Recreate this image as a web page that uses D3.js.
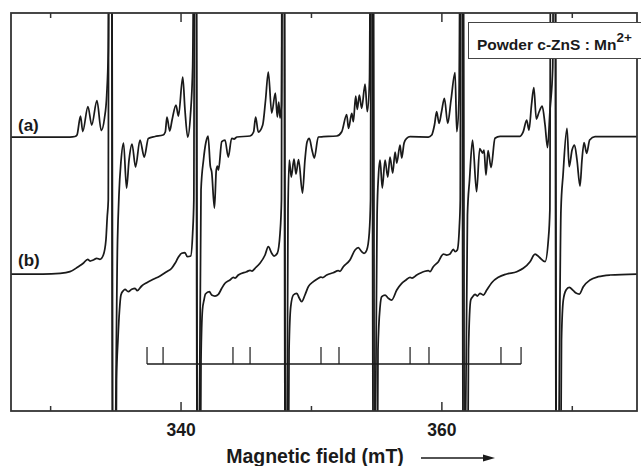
<!DOCTYPE html>
<html><head><meta charset="utf-8">
<script src="https://cdn.jsdelivr.net/npm/d3@7"></script>
<style>body{margin:0;background:#fff}svg{display:block}</style>
</head><body>
<svg id="chart" width="641" height="466"></svg>
<script>
// ---- data (field in mT, derivative signal in arbitrary units) ----
const traceA = [[327.00,0],[331.52,0],[331.91,0.5],[332.06,2],[332.33,21],[332.50,5.5],[332.90,30.5],[333.19,12],[333.59,36.5],[333.92,6.5],[334.17,19],[334.34,42],[334.46,87],[334.59,400],[334.71,400],[334.78,-400],[334.90,-400],[335.17,-103],[335.28,-58],[335.43,-25],[335.63,-6],[335.86,-51],[336.05,-23],[336.28,-7],[336.55,-30],[336.89,-3],[337.22,-20],[337.53,-1.5],[338.04,0.5],[338.66,2],[338.83,5],[338.96,20],[339.17,6],[339.35,17],[339.65,32],[339.84,21],[340.17,60],[340.34,27],[340.55,0],[340.76,22],[340.93,70],[341.11,400],[341.19,400],[341.26,-400],[341.38,-400],[341.57,-53],[341.76,-23],[341.95,-5],[342.11,1],[342.28,-29],[342.39,-35],[342.60,-71],[342.74,-33],[342.83,-29],[342.91,-33],[343.16,-4.7],[343.41,-3],[343.66,-20],[343.92,-1.3],[344.10,-2],[344.33,0],[345.33,1],[345.60,5],[345.76,20],[345.96,5],[346.30,12],[346.52,37],[346.73,65],[346.99,24],[347.27,44],[347.42,20],[347.53,35],[347.63,19],[347.74,32],[347.86,400],[347.93,400],[348.01,-400],[348.13,-400],[348.24,-73],[348.34,-23],[348.49,-40],[348.70,-22],[348.85,-37],[349.05,-22.5],[349.35,-56],[349.54,-23],[349.70,-5],[349.87,-1.3],[350.08,-13],[350.26,-21],[350.56,0],[350.95,0.3],[351.97,1],[352.36,5.3],[352.74,22.5],[352.88,8.7],[353.13,23.7],[353.25,15.3],[353.43,41],[353.55,27.7],[353.71,42],[353.89,28.7],[354.15,53],[354.32,25.3],[354.49,57],[354.61,400],[354.68,400],[354.76,-400],[354.87,-400],[355.07,-78],[355.18,-38],[355.30,-23],[355.47,-51],[355.68,-23],[355.89,-40],[356.06,-20],[356.27,-36],[356.45,-15],[356.58,-26],[356.83,-8],[356.96,-21],[357.14,-6],[357.34,-1.3],[357.60,0.3],[359.00,0],[359.26,2],[359.47,12],[359.64,25.3],[359.82,13.7],[360.01,25],[360.23,38.7],[360.49,13.7],[360.74,37],[361.05,64.3],[361.18,5.3],[361.35,37],[361.51,400],[361.58,400],[361.66,-400],[361.77,-400],[362.00,-78],[362.16,-43],[362.39,-3],[362.70,-54.7],[362.94,-11.7],[363.17,-16],[363.27,-13],[363.42,-38],[363.58,-13.5],[363.81,-30.5],[364.11,-1.3],[364.50,0.7],[366.03,0.7],[366.28,5.3],[366.54,17],[366.72,7],[366.91,32],[367.09,49.5],[367.28,18],[367.49,25],[367.73,31],[367.95,12],[368.14,-10.5],[368.33,27],[368.54,70],[368.64,400],[368.71,400],[368.79,-400],[368.91,-400],[369.17,-73],[369.33,-38],[369.63,8.7],[369.80,-29.7],[370.02,-13],[370.21,-8],[370.40,-23],[370.63,-49],[370.78,-23],[370.94,-5.5],[371.14,-16.3],[371.37,-3],[371.78,0.3],[375.00,0.3]];

const traceB = [[327.00,0],[329.45,0],[330.76,0.7],[331.52,2.3],[332.16,7.3],[332.54,10.7],[332.88,14.7],[333.06,13],[333.31,14],[333.57,15.7],[333.82,14.7],[334.08,19],[334.28,34],[334.38,57.3],[334.46,74],[334.50,400],[334.74,400],[334.82,-400],[334.97,-400],[335.09,-106],[335.20,-66],[335.32,-36],[335.43,-21],[335.61,-16.7],[335.74,-15.3],[335.99,-17.7],[336.26,-15.3],[336.51,-14.3],[336.68,-16.7],[337.02,-12],[337.41,-8.7],[337.91,-5.3],[338.43,-2],[338.94,2.3],[339.32,5.7],[339.58,10.7],[339.83,16.7],[340.09,20.7],[340.34,21.3],[340.52,17.3],[340.78,18],[340.93,40.7],[341.02,74],[341.07,400],[341.22,400],[341.30,-400],[341.45,-400],[341.57,-86],[341.68,-36],[341.80,-26],[341.91,-20],[342.21,-17.7],[342.39,-21],[342.64,-22],[342.90,-20.3],[343.16,-14.3],[343.41,-9.3],[343.79,-6],[344.05,-3.3],[344.18,-4],[344.43,-1],[345.07,2.3],[345.33,3.7],[345.48,3],[345.71,5.7],[346.09,10.7],[346.48,19],[346.73,27.3],[346.99,20.7],[347.17,18],[347.42,20.7],[347.63,40.7],[347.74,74],[347.78,400],[347.97,400],[348.05,-400],[348.20,-400],[348.32,-76],[348.45,-32.7],[348.65,-21],[348.91,-19.3],[349.11,-24.3],[349.29,-27.7],[349.54,-21],[349.80,-12.7],[350.18,-7.7],[350.54,-4.5],[350.75,-3],[350.89,-3.5],[351.21,-1],[351.71,1.3],[352.10,3.3],[352.23,2.7],[352.48,7.3],[352.99,14],[353.38,24],[353.63,26.3],[353.89,22.3],[354.07,20.7],[354.28,24],[354.47,40.7],[354.57,74],[354.61,400],[354.80,400],[354.87,-400],[355.03,-400],[355.14,-76],[355.30,-32.7],[355.43,-22.7],[355.68,-21],[355.93,-24.3],[356.19,-26],[356.58,-16],[356.96,-9.3],[357.29,-6],[357.60,-3.3],[357.75,-4],[358.11,-1],[358.36,0.7],[359.00,3.3],[359.13,2.5],[359.38,7.3],[359.77,12.3],[360.15,20],[360.41,19],[360.66,20],[360.92,24.7],[361.05,22.3],[361.22,24],[361.38,47.3],[361.45,74],[361.48,400],[361.70,400],[361.77,-400],[361.93,-400],[362.08,-76],[362.25,-26],[362.40,-22.7],[362.58,-20.3],[362.76,-22],[362.96,-19.3],[363.22,-21],[363.48,-16],[363.86,-8.7],[364.37,-3.3],[365.01,0],[365.78,2.3],[366.28,5.7],[366.80,12.3],[367.18,20],[367.51,16.7],[367.95,12.3],[368.20,34],[368.32,64],[368.38,400],[368.75,400],[368.83,-400],[369.06,-400],[369.21,-66],[369.35,-26],[369.56,-16],[369.81,-13.3],[370.12,-16.7],[370.32,-19],[370.58,-20],[370.88,-12.7],[371.40,-6],[372.03,-2.7],[372.93,-1],[375.00,0]];

const stickFields = [337.43,338.66,344.02,345.33,350.77,352.15,357.60,359.05,364.57,366.11];
const majorTicks = [340,360];
const minorTicks = [330,350,370];
const traceLabels = ["(a)","(b)"];
const xTitle = "Magnetic field (mT)";
const legendText = "Powder c-ZnS : Mn";
const legendSup = "2+";

// ---- layout ----
const L = 11, R = 637, T = 13, B = 411;
const offsetA = 0, offsetB = -137;
const font = "'Liberation Sans', Arial, Helvetica, sans-serif";
const ink = "#1a1a1a";

const svg = d3.select("#chart");
const x = d3.scaleLinear().domain([327,375]).range([L,R]);
const y = d3.scaleLinear().domain([-274,124]).range([B,T]);

svg.append("defs").append("clipPath").attr("id","clip")
  .append("rect").attr("x",L).attr("y",T).attr("width",R-L).attr("height",B-T);

const g = svg.append("g").attr("clip-path","url(#clip)");

function drawTrace(data, off){
  const line = d3.line().x(d=>x(d[0])).y(d=>y(d[1]+off)).curve(d3.curveMonotoneX);
  g.append("path").attr("d",line(data)).attr("fill","none")
   .attr("stroke",ink).attr("stroke-width",1.75).attr("stroke-linejoin","round");
}
drawTrace(traceA, offsetA);
drawTrace(traceB, offsetB);

// stick diagram
const stickBase = -227, stickTop = -210;
svg.append("line").attr("x1",x(stickFields[0])).attr("x2",x(stickFields[stickFields.length-1]))
  .attr("y1",y(stickBase)).attr("y2",y(stickBase)).attr("stroke",ink).attr("stroke-width",1.7);
svg.selectAll(".stick").data(stickFields).enter().append("line")
  .attr("x1",d=>x(d)).attr("x2",d=>x(d)).attr("y1",y(stickBase)).attr("y2",y(stickTop))
  .attr("stroke",ink).attr("stroke-width",1.2);

// frame
svg.append("rect").attr("x",L).attr("y",T).attr("width",R-L).attr("height",B-T)
  .attr("fill","none").attr("stroke","#333").attr("stroke-width",1.8);

// axes (inward ticks)
const axMajB = d3.axisBottom(x).tickValues(majorTicks).tickSizeInner(-9).tickSizeOuter(0).tickPadding(13).tickFormat(d3.format("d"));
const axMinB = d3.axisBottom(x).tickValues(minorTicks).tickSizeInner(-5).tickSizeOuter(0).tickFormat("");
const axMajT = d3.axisTop(x).tickValues(majorTicks).tickSizeInner(-9).tickSizeOuter(0).tickFormat("");
const axMinT = d3.axisTop(x).tickValues(minorTicks).tickSizeInner(-5).tickSizeOuter(0).tickFormat("");
[[axMajB,B],[axMinB,B],[axMajT,T],[axMinT,T]].forEach(([ax,pos])=>{
  const a = svg.append("g").attr("transform",`translate(0,${pos})`).call(ax);
  a.select(".domain").remove();
  a.selectAll(".tick line").attr("stroke","#333").attr("stroke-width",1.5);
  a.selectAll("text").attr("font-family",font).attr("font-weight","bold")
   .attr("font-size",17.5).attr("fill",ink);
});

// trace labels
svg.append("text").attr("x",18).attr("y",y(offsetA)-6).text(traceLabels[0])
  .attr("font-family",font).attr("font-weight","bold").attr("font-size",17).attr("fill",ink);
svg.append("text").attr("x",18).attr("y",y(offsetB)-8).text(traceLabels[1])
  .attr("font-family",font).attr("font-weight","bold").attr("font-size",17).attr("fill",ink);

// legend
svg.append("rect").attr("x",468.5).attr("y",22.5).attr("width",190).attr("height",36)
  .attr("fill","#fff").attr("stroke","#444").attr("stroke-width",1);
const lt = svg.append("text").attr("x",477).attr("y",50)
  .attr("font-family",font).attr("font-weight","bold").attr("font-size",15.5).attr("fill",ink);
lt.append("tspan").text(legendText);
lt.append("tspan").attr("dy",-8).attr("font-size",13.5).text(legendSup);

// x title + arrow
svg.append("text").attr("x",315).attr("y",463).attr("text-anchor","middle").text(xTitle)
  .attr("font-family",font).attr("font-weight","bold").attr("font-size",19.5).attr("fill",ink);
svg.append("line").attr("x1",421).attr("x2",486).attr("y1",458).attr("y2",458)
  .attr("stroke",ink).attr("stroke-width",1.3);
svg.append("path").attr("d","M483,454.5 L495,458 L483,461.5 Z").attr("fill",ink);
</script>
</body></html>
